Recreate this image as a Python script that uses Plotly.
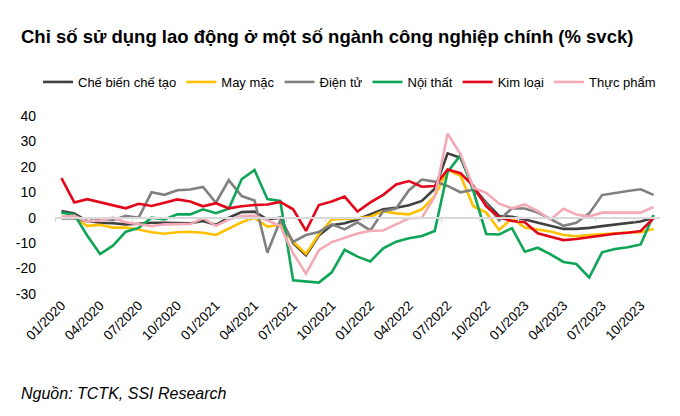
import plotly.graph_objects as go

# Monthly, 01/2020 .. 11/2023 (47 points)
n_months = 47
tick_labels = ["01/2020", "04/2020", "07/2020", "10/2020", "01/2021", "04/2021",
               "07/2021", "10/2021", "01/2022", "04/2022", "07/2022", "10/2022",
               "01/2023", "04/2023", "07/2023", "10/2023"]
y_tick_vals = [40, 30, 20, 10, 0, -10, -20, -30]
y_tick_text = ["40", "30", "20", "10", "0", "-10", "-20", "-30"]

che_bien = [2.6, 1.7, -1.3, -2.0, -2.2, -2.6, -2.4, -2.0, -2.0, -2.0, -2.2, -1.3,
            -2.8, 0.0, 2.2, 2.4, -0.7, 0.0, -10.0, -14.8, -7.0, -3.0, -2.2, -0.7,
            1.3, 3.3, 3.9, 4.9, 6.6, 11.4, 25.3, 23.6, 11.8, 5.9, 0.7, 0.4,
            -0.7, -2.0, -3.3, -4.4, -4.4, -4.0, -3.3, -2.8, -2.2, -1.5, 0.0]
may_mac = [0.4, 0.0, -3.2, -2.8, -3.9, -3.9, -4.6, -5.7, -6.3, -5.7, -5.5, -5.9,
           -6.8, -4.2, -1.8, 0.0, -3.5, -2.8, -9.5, -14.2, -6.5, -0.7, -0.5, -0.2,
           0.4, 2.6, 1.7, 1.3, 3.3, 8.5, 18.8, 16.5, 4.5, 2.0, -4.8, -0.3,
           -3.9, -4.8, -5.4, -6.8, -7.3, -6.8, -6.4, -6.0, -5.8, -5.7, -4.4]
dien_tu = [-0.3, -0.2, -1.5, -0.3, -1.0, 0.7, 0.0, 10.0, 9.0, 10.8, 11.1, 12.1,
           5.9, 14.8, 8.5, 6.8, -13.8, -1.0, -9.5, -6.8, -5.6, -2.6, -4.6, -1.8,
           -5.0, 2.6, 3.6, 10.8, 15.0, 14.2, 12.5, 10.0, 11.0, 5.5, -1.0, 3.7,
           3.6, 2.0, -0.5, -3.2, -2.0, 1.7, 8.9, 9.8, 10.5, 11.2, 9.0]
noi_that = [2.0, 1.2, -7.0, -14.3, -11.0, -5.5, -4.0, 0.0, -0.7, 1.3, 1.3, 3.3,
            1.8, 3.5, 15.1, 18.8, 7.3, 6.6, -24.6, -25.0, -25.5, -21.5, -12.6, -15.3,
            -17.2, -12.0, -9.4, -8.1, -7.2, -5.2, 18.0, 24.6, 10.5, -6.4, -6.6, -4.1,
            -13.4, -11.8, -14.4, -17.4, -18.2, -23.5, -13.6, -12.3, -11.6, -10.5, 1.1]
kim_loai = [15.6, 6.0, 7.3, 6.2, 5.0, 3.7, 5.5, 4.6, 5.9, 7.2, 6.4, 4.5,
            5.7, 3.7, 4.5, 5.0, 5.2, 6.2, 3.3, -5.2, 5.0, 6.4, 8.3, 2.4,
            6.0, 9.0, 13.1, 14.4, 12.2, 12.5, 19.0, 17.5, 12.5, 4.5, 0.2, -1.3,
            -1.8, -6.1, -7.5, -8.8, -8.4, -7.6, -6.9, -6.3, -5.9, -5.2, -0.2]
thuc_pham = [0.4, 0.7, -1.5, -1.1, 0.0, -1.8, -2.6, -3.3, -2.6, -2.6, -2.5, -0.2,
             -3.2, -0.7, 0.7, 0.8, -1.0, -3.3, -14.0, -22.0, -12.8, -9.6, -7.8, -6.2,
             -5.1, -5.0, -2.6, -0.2, 0.0, 8.2, 33.0, 25.0, 11.8, 9.8, 5.5, 3.7,
             5.2, 2.6, -0.7, 3.5, 1.3, 0.5, 2.0, 2.0, 2.0, 2.0, 4.2]

series_names = ["Chế biến chế tạo", "May mặc", "Điện tử", "Nội thất", "Kim loại", "Thực phẩm"]
series_values = [che_bien, may_mac, dien_tu, noi_that, kim_loai, thuc_pham]
series_colors = ["#404040", "#FFC000", "#808080", "#0FA557", "#E3061B", "#F4AAB6"]

x = list(range(n_months))
tick_pos = list(range(0, n_months, 3))
sep_ticks = [i - 0.5 for i in range(0, n_months + 1, 3)]

FONT = "Liberation Sans, Arial, sans-serif"

# The page body adds an 8px margin, so the figure is 664x400 and sits at (8, 8).
OFF = 8
FIG_W, FIG_H = 680 - 2 * OFF, 416 - 2 * OFF
L, T, W, H = 55 - OFF, 116 - OFF, 605, 178   # plot area inside the figure


def px(page_x):
    return (page_x - OFF - L) / W


def py(page_y):
    return (T + H - (page_y - OFF)) / H


fig = go.Figure()
for name, vals, col in zip(series_names, series_values, series_colors):
    fig.add_trace(go.Scatter(x=x, y=vals, mode="lines", name=name,
                             line=dict(color=col, width=2.6)))

# invisible trace on xaxis2 for the zero-crossing category axis
fig.add_trace(go.Scatter(x=[x[0]], y=[0], xaxis="x2", mode="lines",
                         showlegend=False, hoverinfo="skip",
                         line=dict(color="rgba(0,0,0,0)")))

fig.update_layout(
    width=FIG_W, height=FIG_H,
    margin=dict(l=L, r=FIG_W - L - W, t=T, b=FIG_H - T - H, autoexpand=False),
    paper_bgcolor="white", plot_bgcolor="white",
    font=dict(family=FONT, size=14, color="#000000"),
    showlegend=True,
    legend=dict(orientation="h", x=px(38), xanchor="left", y=py(82), yanchor="middle",
                font=dict(family=FONT, size=13), bgcolor="rgba(0,0,0,0)",
                itemwidth=30, tracegroupgap=0),
    xaxis=dict(range=[-0.5, n_months - 0.5], tickmode="array", tickvals=tick_pos,
               ticktext=tick_labels, tickangle=-45, showgrid=False, zeroline=False,
               showline=False, ticks="", tickfont=dict(size=13.5), automargin=False),
    xaxis2=dict(range=[-0.5, n_months - 0.5], overlaying="x", anchor="free",
                position=30 / 70, side="bottom", tickmode="array", tickvals=sep_ticks,
                showticklabels=False, ticks="outside", ticklen=4, tickcolor="#D9D9D9",
                showline=True, linecolor="#D9D9D9", linewidth=1.5, showgrid=False,
                zeroline=False),
    yaxis=dict(range=[-30, 40], tickmode="array", tickvals=y_tick_vals,
               ticktext=y_tick_text, showgrid=False, zeroline=False, showline=False,
               ticks="", ticklabelstandoff=18, tickfont=dict(size=14), automargin=False),
    annotations=[
        dict(text="<b>Chỉ số sử dụng lao động ở một số ngành công nghiệp chính (% svck)</b>",
             xref="paper", yref="paper", x=px(20), y=py(36), xanchor="left",
             yanchor="middle", showarrow=False, borderpad=0,
             font=dict(family=FONT, size=18.5, color="#000000")),
        dict(text="<i>Nguồn: TCTK, SSI Research</i>", xref="paper", yref="paper",
             x=px(20), y=py(393), xanchor="left", yanchor="middle", showarrow=False,
             borderpad=0, font=dict(family=FONT, size=16, color="#000000")),
    ],
)

fig.write_html("out.html")
